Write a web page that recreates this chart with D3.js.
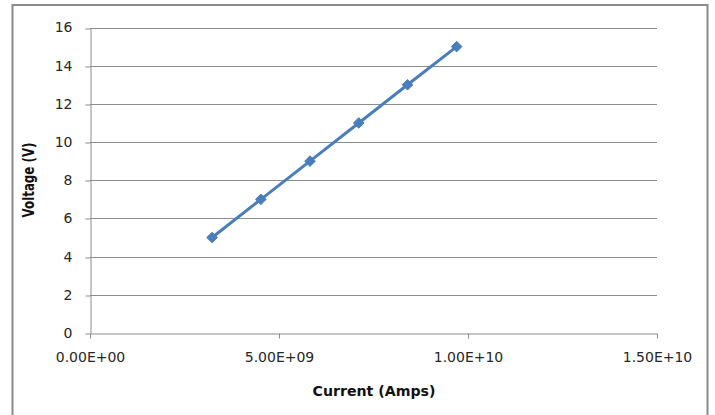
<!DOCTYPE html>
<html>
<head>
<meta charset="utf-8">
<script src="https://cdn.jsdelivr.net/npm/d3@7"></script>
<style>
  html, body { margin: 0; padding: 0; background: #fff; }
  svg { display: block; }
</style>
</head>
<body>
<svg id="chart" width="715" height="415"></svg>
<script>
// Measured current (A) vs. applied voltage (V)
const currentAmps = [3.23e9, 4.52e9, 5.82e9, 7.11e9, 8.40e9, 9.70e9];
const voltageV = [5, 7, 9, 11, 13, 15];

const xTickValues = [0, 5e9, 1e10, 1.5e10];
const xTickLabels = ["0.00E+00", "5.00E+09", "1.00E+10", "1.50E+10"];
const yTickValues = [0, 2, 4, 6, 8, 10, 12, 14, 16];

const xTitle = "Current (Amps)";
const yTitle = "Voltage (V)";

const svg = d3.select("#chart");
const plot = { left: 90, right: 657, top: 27.5, bottom: 333 };

const x = d3.scaleLinear().domain([0, 1.5e10]).range([plot.left, plot.right]);
const y = d3.scaleLinear().domain([0, 16]).range([plot.bottom, plot.top]);

const gridColor = "#8c8c8c";
const fontFamily = "'DejaVu Sans', Verdana, sans-serif";

// chart frame
svg.append("rect")
  .attr("x", 12.5).attr("y", 5)
  .attr("width", 695).attr("height", 420)
  .attr("fill", "#fff")
  .attr("stroke", "#8a8a8a")
  .attr("stroke-width", 2);

// horizontal gridlines
svg.append("g")
  .selectAll("line")
  .data(yTickValues.filter(d => d > 0))
  .join("line")
  .attr("x1", plot.left).attr("x2", plot.right)
  .attr("y1", d => Math.round(y(d)) + 0.5)
  .attr("y2", d => Math.round(y(d)) + 0.5)
  .attr("stroke", gridColor)
  .attr("stroke-width", 1);

// y axis
const yAxis = svg.append("g")
  .attr("transform", `translate(${plot.left + 0.5},0)`)
  .call(d3.axisLeft(y).tickValues(yTickValues).tickSize(5).tickPadding(13).tickSizeOuter(0));
yAxis.selectAll("line").attr("stroke", gridColor)
  .attr("transform", d => `translate(0,${Math.round(y(d)) + 0.5 - y(d)})`);
yAxis.select(".domain").attr("stroke", gridColor);
yAxis.selectAll("text")
  .attr("font-family", fontFamily).attr("font-size", 14).attr("fill", "#262626");

// x axis
const xAxis = svg.append("g")
  .attr("transform", `translate(0,${Math.round(plot.bottom) + 0.5})`)
  .call(d3.axisBottom(x).tickValues(xTickValues)
    .tickFormat((d, i) => xTickLabels[i])
    .tickSize(5).tickPadding(14).tickSizeOuter(0));
xAxis.selectAll("line").attr("stroke", gridColor);
xAxis.select(".domain").attr("stroke", gridColor);
xAxis.selectAll("text")
  .attr("font-family", fontFamily).attr("font-size", 14).attr("fill", "#262626");

// axis titles
svg.append("text")
  .attr("x", 374).attr("y", 396)
  .attr("text-anchor", "middle")
  .attr("font-family", fontFamily).attr("font-weight", "bold").attr("font-size", 14.5)
  .attr("textLength", 123).attr("lengthAdjust", "spacingAndGlyphs")
  .attr("fill", "#111")
  .text(xTitle);

svg.append("text")
  .attr("transform", "translate(33.5,180) rotate(-90)")
  .attr("text-anchor", "middle")
  .attr("font-family", fontFamily).attr("font-weight", "bold").attr("font-size", 15)
  .attr("textLength", 75).attr("lengthAdjust", "spacingAndGlyphs")
  .attr("fill", "#111")
  .text(yTitle);

// data series
const points = currentAmps.map((c, i) => ({ c, v: voltageV[i] }));
const seriesColor = "#4a7ebb";

svg.append("path")
  .datum(points)
  .attr("fill", "none")
  .attr("stroke", seriesColor)
  .attr("stroke-width", 3)
  .attr("stroke-linejoin", "round")
  .attr("d", d3.line().x(d => x(d.c)).y(d => y(d.v)));

svg.append("g")
  .selectAll("path")
  .data(points)
  .join("path")
  .attr("transform", d => `translate(${x(d.c)},${y(d.v)})`)
  .attr("d", d3.symbol().type(d3.symbolDiamond2).size(72))
  .attr("fill", seriesColor)
  .attr("stroke", seriesColor)
  .attr("stroke-width", 1);
</script>
</body>
</html>
